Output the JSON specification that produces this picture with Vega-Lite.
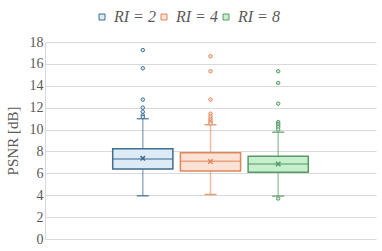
{
  "$schema": "https://vega.github.io/schema/vega-lite/v6.json",
  "width": 331,
  "height": 197,
  "autosize": {"type": "none"},
  "padding": {"left": 45, "top": 42, "right": 6, "bottom": 12},
  "background": "white",
  "config": {
    "view": {"stroke": null},
    "font": "Liberation Serif",
    "axis": {"labelFont": "Liberation Serif", "titleFont": "Liberation Serif"},
    "axisY": {
      "labelOverlap": false,
      "values": [0, 2, 4, 6, 8, 10, 12, 14, 16, 18],
      "titleFont": "Liberation Serif",
      "titleFontSize": 15,
      "titleFontWeight": "normal",
      "titleColor": "#595959",
      "titlePadding": 9,
      "labelFont": "Liberation Serif",
      "labelFontSize": 14,
      "labelColor": "#595959",
      "labelPadding": 2,
      "ticks": false,
      "domainColor": "#d9d9d9",
      "gridColor": "#d9d9d9",
      "grid": true
    },
    "legend": {
      "orient": "top",
      "direction": "horizontal",
      "labelFont": "Liberation Serif",
      "labelFontSize": 16,
      "labelFontStyle": "italic",
      "labelColor": "#595959",
      "symbolType": "square",
      "symbolSize": 36,
      "symbolStrokeWidth": 1,
      "columnPadding": 0,
      "labelOffset": 4
    }
  },
  "datasets": {
    "summary": [
      {"series": "RI = 2", "lower": 3.95, "q1": 6.40, "median": 7.32, "q3": 8.24, "upper": 10.99, "mean": 7.37},
      {"series": "RI = 4", "lower": 4.07, "q1": 6.22, "median": 7.10, "q3": 7.87, "upper": 10.44, "mean": 7.08},
      {"series": "RI = 8", "lower": 3.92, "q1": 6.09, "median": 6.86, "q3": 7.56, "upper": 9.76, "mean": 6.86}
    ],
    "outliers": [
      {"series": "RI = 2", "value": 17.26},
      {"series": "RI = 2", "value": 15.6},
      {"series": "RI = 2", "value": 12.74},
      {"series": "RI = 2", "value": 12.0},
      {"series": "RI = 2", "value": 11.63},
      {"series": "RI = 2", "value": 11.3},
      {"series": "RI = 2", "value": 11.15},
      {"series": "RI = 4", "value": 16.7},
      {"series": "RI = 4", "value": 15.33},
      {"series": "RI = 4", "value": 12.74},
      {"series": "RI = 4", "value": 11.45},
      {"series": "RI = 4", "value": 11.2},
      {"series": "RI = 4", "value": 11.0},
      {"series": "RI = 4", "value": 10.84},
      {"series": "RI = 4", "value": 10.68},
      {"series": "RI = 4", "value": 10.55},
      {"series": "RI = 8", "value": 15.33},
      {"series": "RI = 8", "value": 14.26},
      {"series": "RI = 8", "value": 12.37},
      {"series": "RI = 8", "value": 10.68},
      {"series": "RI = 8", "value": 10.53},
      {"series": "RI = 8", "value": 10.38},
      {"series": "RI = 8", "value": 10.22},
      {"series": "RI = 8", "value": 10.0},
      {"series": "RI = 8", "value": 3.7}
    ]
  },
  "encoding": {
    "x": {
      "field": "series",
      "type": "nominal",
      "axis": null,
      "scale": {"domain": ["RI = 2", "RI = 4", "RI = 8"], "paddingInner": 0.111, "paddingOuter": 2.233}
    }
  },
  "layer": [
    {
      "data": {"name": "summary"},
      "mark": {"type": "bar", "strokeWidth": 1.5},
      "encoding": {
        "y": {
          "field": "q1",
          "type": "quantitative",
          "scale": {"domain": [0, 18], "nice": false},
          "axis": {"values": [0, 2, 4, 6, 8, 10, 12, 14, 16, 18], "labelOverlap": false, "labelFont": "Liberation Serif", "labelFontSize": 14, "title": "PSNR [dB]"}
        },
        "y2": {"field": "q3"},
        "fill": {
          "field": "series",
          "type": "nominal",
          "title": null,
          "scale": {"domain": ["RI = 2", "RI = 4", "RI = 8"], "range": ["#DDEBF7", "#FBE2D5", "#C6EFCE"]},
          "legend": {"orient": "none", "legendX": 49, "legendY": -33, "direction": "horizontal", "title": null, "labelFont": "Liberation Serif", "labelFontSize": 16, "labelFontStyle": "italic", "columnPadding": 0}
        },
        "stroke": {"field": "series", "type": "nominal", "title": null, "scale": {"domain": ["RI = 2", "RI = 4", "RI = 8"], "range": ["#3E6E90", "#E0875A", "#5A9868"]}, "legend": {"orient": "none", "legendX": 49, "legendY": -33, "direction": "horizontal", "title": null, "labelFont": "Liberation Serif", "labelFontSize": 16, "labelFontStyle": "italic", "columnPadding": 0}}
      }
    },
    {
      "data": {"name": "summary"},
      "mark": {"type": "rule", "strokeWidth": 1.5, "opacity": 0.55},
      "encoding": {
        "y": {"field": "lower", "type": "quantitative", "axis": {"values": [0, 2, 4, 6, 8, 10, 12, 14, 16, 18], "labelOverlap": false, "labelFont": "Liberation Serif", "title": "PSNR [dB]"}},
        "y2": {"field": "q1"},
        "stroke": {"field": "series", "type": "nominal", "title": null}
      }
    },
    {
      "data": {"name": "summary"},
      "mark": {"type": "rule", "strokeWidth": 1.5, "opacity": 0.55},
      "encoding": {
        "y": {"field": "q3", "type": "quantitative", "axis": {"values": [0, 2, 4, 6, 8, 10, 12, 14, 16, 18], "labelOverlap": false, "labelFont": "Liberation Serif", "title": "PSNR [dB]"}},
        "y2": {"field": "upper"},
        "stroke": {"field": "series", "type": "nominal", "title": null}
      }
    },
    {
      "data": {"name": "summary"},
      "mark": {"type": "tick", "size": 12, "thickness": 1.5, "opacity": 0.8},
      "encoding": {
        "y": {"field": "lower", "type": "quantitative", "axis": {"values": [0, 2, 4, 6, 8, 10, 12, 14, 16, 18], "labelOverlap": false, "labelFont": "Liberation Serif", "title": "PSNR [dB]"}},
        "color": {"field": "series", "type": "nominal", "legend": null, "scale": {"domain": ["RI = 2", "RI = 4", "RI = 8"], "range": ["#3E6E90", "#E0875A", "#5A9868"]}}
      }
    },
    {
      "data": {"name": "summary"},
      "mark": {"type": "tick", "size": 12, "thickness": 1.5, "opacity": 0.8},
      "encoding": {
        "y": {"field": "upper", "type": "quantitative", "axis": {"values": [0, 2, 4, 6, 8, 10, 12, 14, 16, 18], "labelOverlap": false, "labelFont": "Liberation Serif", "title": "PSNR [dB]"}},
        "color": {"field": "series", "type": "nominal", "legend": null}
      }
    },
    {
      "data": {"name": "summary"},
      "mark": {"type": "tick", "thickness": 1.5},
      "encoding": {
        "y": {"field": "median", "type": "quantitative", "axis": {"values": [0, 2, 4, 6, 8, 10, 12, 14, 16, 18], "labelOverlap": false, "labelFont": "Liberation Serif", "title": "PSNR [dB]"}},
        "color": {"field": "series", "type": "nominal", "legend": null}
      }
    },
    {
      "data": {"name": "summary"},
      "mark": {"type": "point", "shape": "M-1,-1L1,1M-1,1L1,-1", "filled": false, "strokeWidth": 1.5, "size": 20, "opacity": 1},
      "encoding": {
        "y": {"field": "mean", "type": "quantitative", "axis": {"values": [0, 2, 4, 6, 8, 10, 12, 14, 16, 18], "labelOverlap": false, "labelFont": "Liberation Serif", "title": "PSNR [dB]"}},
        "stroke": {"field": "series", "type": "nominal", "title": null}
      }
    },
    {
      "data": {"name": "outliers"},
      "mark": {"type": "point", "shape": "circle", "filled": true, "strokeWidth": 1, "size": 12, "opacity": 1},
      "encoding": {
        "y": {"field": "value", "type": "quantitative", "axis": {"values": [0, 2, 4, 6, 8, 10, 12, 14, 16, 18], "labelOverlap": false, "labelFont": "Liberation Serif", "title": "PSNR [dB]"}},
        "fill": {"field": "series", "type": "nominal", "title": null},
        "stroke": {"field": "series", "type": "nominal", "title": null}
      }
    }
  ]
}
